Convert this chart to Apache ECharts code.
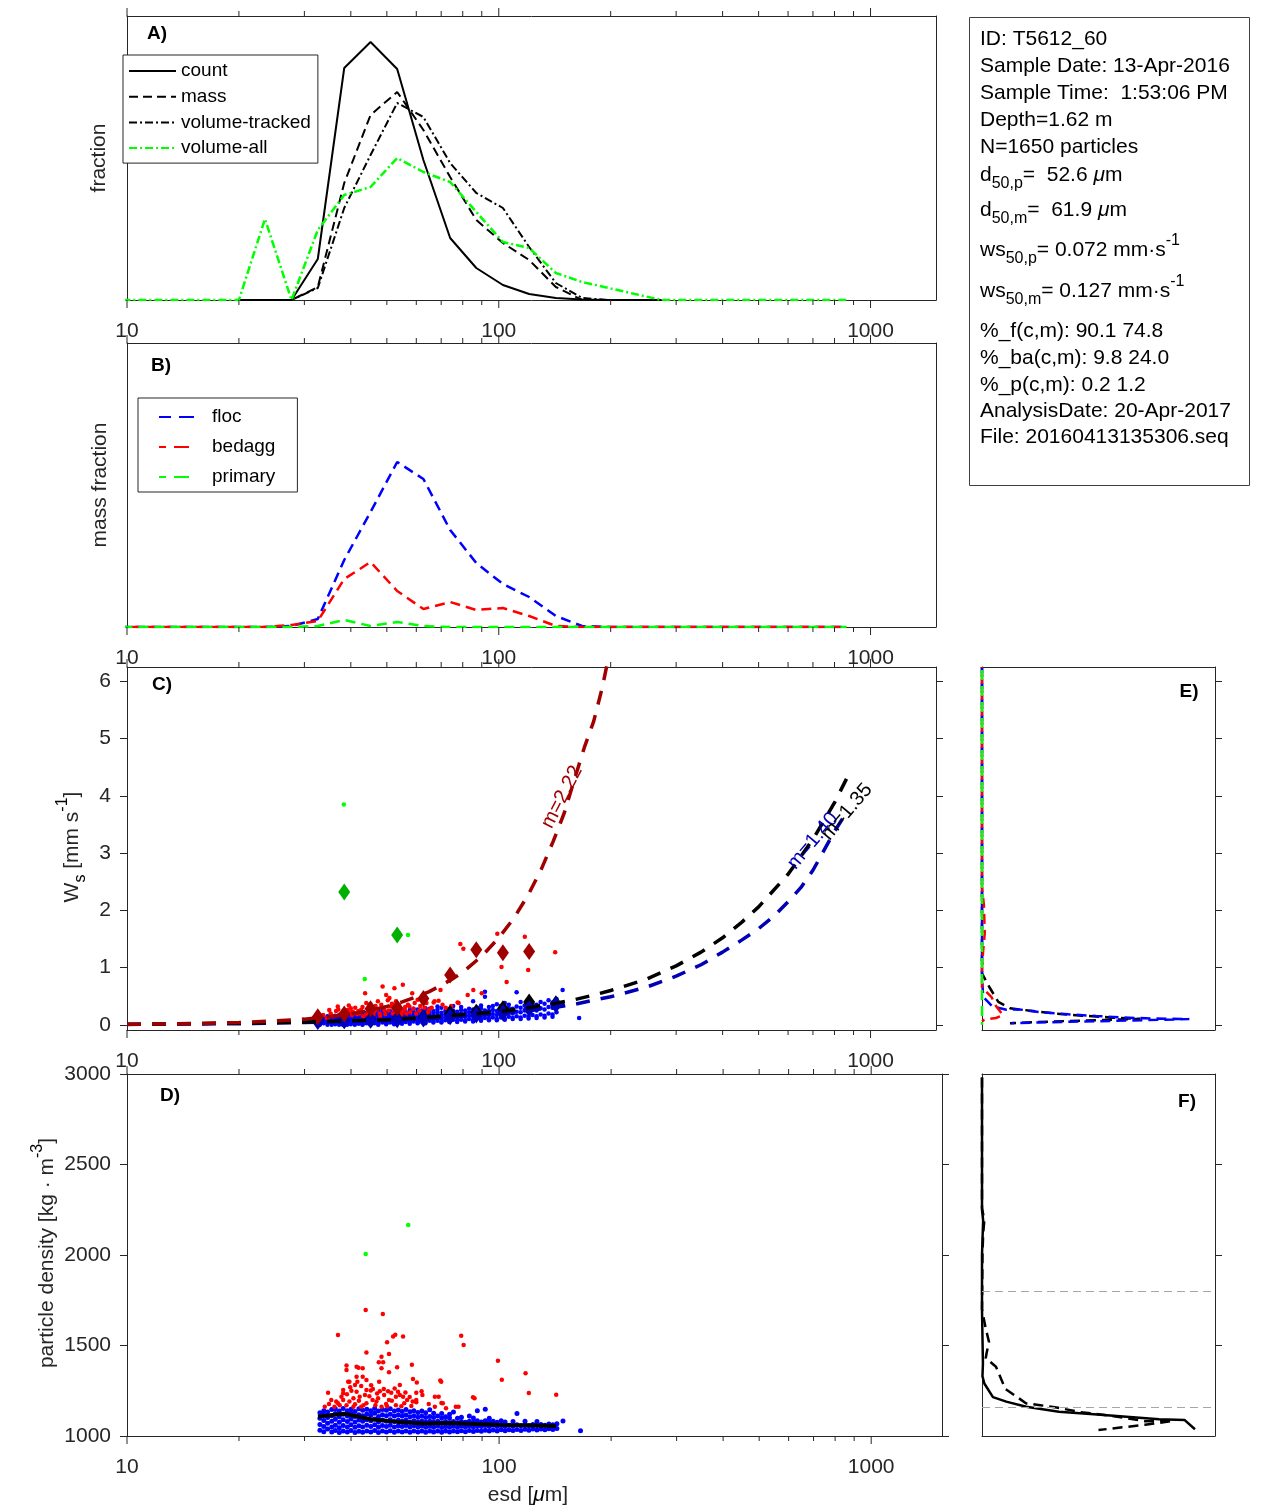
<!DOCTYPE html>
<html><head><meta charset="utf-8">
<script src="https://cdn.jsdelivr.net/npm/echarts@6/dist/echarts.min.js"></script>
<style>html,body{margin:0;padding:0;background:#fff}#chart{width:1270px;height:1511px}</style>
</head><body><div id="chart"></div>
<script>
const FONT = "'Liberation Sans', Arial, Helvetica, sans-serif";
const AXC = '#262626';

// ---------- size bins (µm) for panels A/B ----------
const esdBins = [8.8,10.4,12.2,14.4,16.9,20.0,23.5,27.7,32.6,38.4,45.2,53.3,62.7,74.0,87.0,102.6,120.7,142.4,167.5,197.6,232.4,274.2,322.5,380.5,447.4,527.8,620.9,732.4,861.5];
// Panel A fractions
const countFrac      = [null,null,null,null,null,0,0,0,0.041,0.232,0.258,0.231,0.140,0.062,0.032,0.015,0.006,0.002,0.0005,0,0,0,null,null,null,null,null,null,null];
const massFrac       = [null,null,null,null,null,0,0,0,0.013,0.117,0.185,0.208,0.170,0.123,0.080,0.057,0.040,0.013,0,null,null,null,null,null,null,null,null,null,null];
const volTrackedFrac = [null,null,null,null,null,0,0,0,0.012,0.092,0.145,0.197,0.183,0.137,0.107,0.092,0.053,0.017,0.002,0,null,null,null,null,null,null,null,null,null];
const volAllFrac     = [0,0,0,0,0,0,0.081,0,0.070,0.105,0.113,0.142,0.128,0.118,0.088,0.058,0.052,0.027,0.018,0.012,0.006,0,0,0,0,0,0,0,0];
// Panel B mass fractions
const flocMass    = [0,0,0,0,0,0,0,0.001,0.008,0.067,0.115,0.165,0.148,0.097,0.064,0.043,0.030,0.011,0.001,0,0,0,0,0,0,0,0,0,0];
const bedaggMass  = [0,0,0,0,0,0,0,0.002,0.006,0.048,0.065,0.036,0.018,0.025,0.017,0.019,0.011,0.001,0,0,0,0,0,0,0,0,0,0,0];
const primaryMass = [0,0,0,0,0,0,0,0,0.001,0.007,0.001,0.005,0.001,0,0,0,0,0,0,0,0,0,0,0,0,0,0,0,0];

// ---------- Panel C: bin means ----------
const binMid        = [32.6,38.4,45.2,53.3,62.7,74.0,87.0,102.6,120.7,142.4];
const wsMeanAll     = [0.07,0.08,0.09,0.10,0.12,0.20,0.22,0.28,0.40,0.37];
const wsMeanFloc    = [0.06,0.07,0.08,0.09,0.10,0.14,0.17,0.21,0.28,0.35];
const wsMeanBedagg  = [0.14,0.19,0.28,0.30,0.46,0.87,1.31,1.26,1.28,null];
const wsMeanPrimary = [null,2.32,null,1.57,null,null,null,null,null,null];
// Panel D: bin mean density
const rhoMeanAll    = [1107,1123,1093,1078,1069,1072,1066,1061,1059,1055];

// ---------- Panel C: fitted curves ----------
const fitRedEsd  = [10,15,20,25,30,35,40,45,50,55,60,65,70,75,80,90,100,110,120,130,140,150,160,170,180,190,200];
const fitRedWs   = [0.01,0.02,0.04,0.07,0.10,0.14,0.19,0.25,0.32,0.40,0.49,0.58,0.69,0.80,0.92,1.20,1.52,1.87,2.27,2.71,3.20,3.70,4.30,4.85,5.30,5.90,6.60];
const fitAllEsd  = [10,20,30,40,50,60,70,80,100,120,140,160,180,200,250,300,350,400,450,500,600,700,800,870];
const fitAllWs   = [0.01,0.03,0.05,0.07,0.09,0.12,0.15,0.18,0.23,0.30,0.37,0.44,0.52,0.60,0.80,1.03,1.27,1.52,1.79,2.06,2.63,3.24,3.88,4.35];
const fitFlocEsd = [10,20,30,40,50,60,70,80,100,120,140,160,180,200,250,300,350,400,450,500,550,600,650,700,750,800,860];
const fitFlocWs  = [0.008,0.02,0.04,0.06,0.08,0.10,0.12,0.15,0.19,0.25,0.30,0.36,0.43,0.49,0.66,0.85,1.05,1.27,1.48,1.68,1.90,2.15,2.40,2.70,3.05,3.38,3.70];

// ---------- Panel C: particle settling velocities [esd, ws...] ----------
const flocWsCols = [
 [33.0,[0.00,0.01,0.05,0.09,0.13]],[33.8,[0.03,0.07,0.11]],[34.6,[0.00,0.04,0.08,0.12,0.15]],[35.5,[0.00,0.02,0.06,0.10,0.14]],
 [36.3,[0.01,0.04,0.08,0.12,0.16]],[37.2,[0.00,0.03,0.06,0.10,0.13,0.17]],[38.1,[0.00,0.05,0.09,0.12,0.15]],[39.1,[0.00,0.02,0.06,0.10,0.14,0.18]],
 [40.0,[0.01,0.04,0.08,0.11,0.16]],[41.0,[0.00,0.03,0.07,0.10,0.13,0.17,0.20]],[42.0,[0.02,0.05,0.09,0.12,0.15]],[43.0,[0.00,0.01,0.04,0.07,0.11,0.14,0.18]],
 [44.1,[0.03,0.06,0.10,0.13,0.17,0.21]],[45.2,[0.00,0.02,0.05,0.08,0.12,0.15,0.19]],[46.3,[0.03,0.07,0.10,0.14,0.18]],[47.4,[0.00,0.02,0.05,0.09,0.12,0.16,0.20,0.23]],
 [48.6,[0.04,0.07,0.11,0.14,0.18,0.24]],[49.8,[0.01,0.03,0.06,0.09,0.13,0.17,0.21]],[51.0,[0.04,0.08,0.11,0.15,0.19,0.24]],[52.3,[0.01,0.03,0.06,0.10,0.14,0.17,0.22]],
 [53.6,[0.05,0.08,0.12,0.16,0.20,0.26]],[54.9,[0.02,0.04,0.07,0.11,0.15,0.19,0.25]],[56.2,[0.05,0.09,0.13,0.17,0.22]],[57.6,[0.02,0.04,0.08,0.12,0.16,0.21,0.26]],
 [59.0,[0.06,0.10,0.14,0.18,0.23,0.28]],[60.5,[0.03,0.05,0.09,0.13,0.17,0.22,0.27]],[62.0,[0.06,0.10,0.15,0.20,0.25]],[63.5,[0.03,0.05,0.09,0.14,0.18,0.23,0.29]],
 [65.1,[0.07,0.11,0.16,0.21,0.28]],[66.7,[0.04,0.06,0.10,0.15,0.19,0.24]],[68.4,[0.07,0.12,0.17,0.22,0.27,0.32]],[70.1,[0.04,0.06,0.11,0.16,0.21,0.30]],
 [71.8,[0.08,0.13,0.18,0.24]],[73.6,[0.05,0.07,0.12,0.17,0.22,0.28]],[75.4,[0.09,0.14,0.19,0.25,0.33]],[77.3,[0.05,0.08,0.13,0.18,0.23]],
 [79.2,[0.09,0.15,0.20,0.26,0.31]],[81.2,[0.06,0.08,0.14,0.19,0.25]],[83.2,[0.10,0.16,0.22,0.28]],[85.3,[0.06,0.09,0.15,0.21,0.27,0.41]],
 [87.4,[0.11,0.17,0.23,0.30]],[89.6,[0.07,0.10,0.16,0.22,0.29,0.34]],[91.8,[0.12,0.18,0.25,0.49,0.58]],[94.1,[0.08,0.11,0.17,0.24,0.31]],
 [96.4,[0.13,0.19,0.26,0.33]],[98.8,[0.08,0.10,0.17,0.24,0.36]],[101.3,[0.13,0.20,0.27,0.33]],[103.8,[0.09,0.11,0.19,0.26,0.38]],
 [106.4,[0.14,0.21,0.29,0.35]],[109.0,[0.10,0.12,0.20,0.28]],[111.7,[0.15,0.23,0.32,0.57]],[114.5,[0.10,0.13,0.22,0.30,0.40]],
 [117.4,[0.16,0.25,0.34]],[120.3,[0.11,0.14,0.23,0.32,0.42]],[123.3,[0.17,0.26,0.36]],[126.4,[0.12,0.15,0.25,0.35]],
 [129.6,[0.18,0.29,0.40]],[132.8,[0.13,0.16,0.27,0.37]],[136.1,[0.20,0.31,0.43]],[139.5,[0.14,0.18,0.30,0.39]],
 [143.0,[0.22,0.33,0.45]],[148.5,[0.35,0.61]],[164.5,[0.12]]
];
const bedaggWsPts = [
 [33.7,0.17],[34.5,0.12],[35.0,0.26],[35.3,0.20],[35.8,0.15],[36.5,0.24],[36.9,0.32],[37.0,0.27],[37.4,0.18],[38.1,0.20],[38.6,0.13],[38.9,0.16],
 [39.2,0.26],[39.5,0.34],[39.7,0.22],[40.0,0.29],[40.3,0.17],[40.5,0.23],[41.1,0.30],[41.6,0.19],[41.9,0.24],[42.2,0.20],[42.6,0.26],[43.0,0.31],
 [43.2,0.15],[43.7,0.55],[44.0,0.38],[44.2,0.18],[44.5,0.22],[44.9,0.23],[45.0,0.36],[45.5,0.29],[46.0,0.18],[46.3,0.24],[46.6,0.33],[47.0,0.27],
 [47.3,0.41],[47.8,0.20],[48.0,0.16],[48.3,0.35],[48.7,0.67],[49.2,0.26],[49.5,0.19],[49.8,0.52],[50.3,0.43],[50.5,0.25],[50.8,0.47],[51.3,0.32],
 [51.6,0.37],[51.9,0.20],[52.2,0.28],[52.4,0.64],[52.9,0.41],[53.0,0.19],[53.5,0.24],[53.9,0.35],[54.1,0.29],[54.7,0.18],[55.0,0.23],[55.2,0.70],
 [55.8,0.27],[56.0,0.31],[56.4,0.20],[57.0,0.35],[57.5,0.32],[57.8,0.22],[58.5,0.55],[58.9,0.28],[59.4,0.38],[60.0,0.20],[60.5,0.44],[61.2,0.25],
 [61.5,0.33],[62.4,0.47],[63.1,0.30],[63.9,0.38],[64.5,0.22],[65.0,0.27],[66.0,0.30],[66.8,0.39],[67.2,0.41],[68.9,0.42],[69.7,0.61],[70.6,0.35],
 [72.0,0.30],[74.5,0.33],[77.5,0.39],[78.0,0.38],[78.8,1.41],[80.3,1.33],[82.5,0.52],[85.4,0.61],[90.0,0.55],[99.1,1.59],[101.7,1.01],[105.0,0.75],
 [117.5,1.54],[120.0,0.96],[141.8,1.27]
];
const primaryWsPts = [[38.3,3.85],[43.6,0.80],[57.0,1.57]];

// ---------- Panel D: particle densities ----------
const flocRhoCols = [
 [33.0,[1032,1064,1098,1128]],[33.8,[1024,1052,1085,1116,1140]],[34.6,[1038,1070,1102,1133]],[35.5,[1022,1050,1082,1112,1146]],
 [36.3,[1030,1060,1092,1124,1150]],[37.2,[1020,1046,1076,1106,1138]],[38.1,[1028,1058,1090,1120,1152]],[39.1,[1022,1050,1080,1110,1140]],
 [40.0,[1030,1062,1094,1126,1148]],[41.0,[1020,1048,1078,1108,1136]],[42.0,[1026,1056,1088,1118,1150]],[43.0,[1021,1050,1082,1112,1142]],
 [44.1,[1028,1060,1090,1122,1148]],[45.2,[1022,1052,1084,1114,1140]],[46.3,[1030,1062,1094,1126,1152]],[47.4,[1020,1048,1078,1108,1138]],
 [48.6,[1027,1058,1088,1118,1146]],[49.8,[1022,1052,1082,1112,1142]],[51.0,[1029,1060,1090,1120,1150]],[52.3,[1021,1050,1080,1110,1138]],
 [53.6,[1027,1057,1087,1116,1144]],[54.9,[1022,1052,1082,1110,1136]],[56.2,[1028,1058,1088,1116,1146]],[57.6,[1021,1050,1078,1106,1134]],
 [59.0,[1027,1056,1084,1112,1140]],[60.5,[1022,1050,1078,1104,1130]],[62.0,[1028,1055,1083,1110,1138]],[63.5,[1021,1048,1076,1102,1128]],
 [65.1,[1027,1054,1081,1108,1145]],[66.7,[1022,1049,1076,1102,1126]],[68.4,[1028,1055,1082,1110]],[70.1,[1021,1047,1073,1100,1124]],
 [71.8,[1027,1053,1080,1106]],[73.6,[1022,1048,1074,1100,1120]],[75.4,[1028,1054,1080,1132]],[77.3,[1023,1048,1073,1098]],
 [79.2,[1029,1055,1080,1104]],[81.2,[1024,1050,1076]],[83.2,[1030,1056,1082,1110]],[85.3,[1025,1050,1076,1100]],
 [87.4,[1031,1057,1084,1140]],[89.6,[1026,1052,1078]],[91.8,[1032,1058,1084,1148]],[94.1,[1027,1053,1079,1098]],
 [96.4,[1033,1059,1082]],[98.8,[1028,1052,1076]],[101.3,[1034,1058,1084]],[103.8,[1029,1053,1078]],
 [106.4,[1035,1060]],[109.0,[1030,1055,1080]],[111.7,[1036,1062,1125]],[114.5,[1031,1056]],
 [117.4,[1037,1062,1082]],[120.3,[1032,1057]],[123.3,[1038,1063]],[126.4,[1033,1058,1080]],
 [129.6,[1039,1064]],[132.8,[1034,1060]],[136.1,[1040,1066]],[139.5,[1036,1062]],
 [143.0,[1042,1068]],[148.5,[1083]],[165.5,[1029]]
];
const bedaggRhoPts = [
 [34.0,1162],[34.7,1239],[34.9,1177],[35.4,1199],[36.1,1162],[36.5,1190],[36.9,1558],[36.9,1181],[37.3,1170],[37.7,1217],[38.1,1254],[38.1,1236],
 [38.1,1199],[38.9,1389],[38.9,1365],[38.9,1170],[39.0,1230],[39.3,1300],[39.6,1300],[39.6,1190],[39.8,1270],[40.1,1250],[40.6,1208],[40.6,1162],
 [41.0,1282],[41.0,1175],[41.4,1383],[41.4,1328],[41.4,1245],[41.6,1300],[41.9,1377],[42.0,1195],[42.2,1217],[42.6,1276],[42.6,1162],[43.0,1374],
 [43.0,1328],[43.2,1170],[43.6,1227],[43.8,1696],[44.0,1462],[44.0,1310],[44.0,1254],[44.0,1181],[44.8,1220],[45.2,1251],[45.3,1280],[45.7,1199],
 [45.8,1260],[46.5,1170],[46.8,1190],[47.0,1235],[47.3,1208],[47.5,1407],[47.6,1300],[47.8,1247],[48.3,1438],[48.3,1374],[48.3,1162],[48.7,1674],
 [48.8,1407],[49.0,1260],[49.1,1227],[49.7,1177],[50.0,1518],[50.0,1165],[50.3,1247],[50.6,1453],[50.6,1352],[50.6,1199],[51.3,1239],[51.5,1195],
 [51.9,1550],[52.4,1263],[52.6,1560],[52.8,1217],[52.8,1170],[53.2,1380],[53.5,1245],[54.1,1282],[54.1,1227],[54.6,1165],[55.2,1550],[55.2,1217],
 [55.6,1181],[56.0,1240],[56.6,1199],[57.5,1215],[58.1,1166],[58.3,1394],[58.6,1190],[58.7,1315],[59.9,1239],[59.9,1199],[59.9,1186],[60.1,1295],
 [61.9,1247],[62.2,1227],[64.7,1177],[67.2,1217],[67.2,1162],[68.8,1217],[69.5,1306],[69.9,1300],[70.0,1182],[70.6,1181],[72.0,1153],[76.5,1162],
 [77.8,1162],[79.1,1554],[80.3,1503],[85.1,1214],[85.9,1208],[99.3,1416],[101.7,1311],[117.8,1346],[120.2,1238],[142.4,1228]
];
const primaryRhoPts = [[43.8,2005],[57.0,2166]];

// ---------- Panel E: ws distributions [fraction, ws] ----------
const wsDistAll     = [[0,6.25],[0,0.90],[0.03,0.67],[0.07,0.40],[0.12,0.29],[0.20,0.25],[0.31,0.20],[0.43,0.16],[0.55,0.13],[0.68,0.105],[0.35,0.065],[0.12,0.03]];
const wsDistFloc    = [[0,6.25],[0,0.84],[0.005,0.49],[0.045,0.32],[0.105,0.265],[0.16,0.27],[0.25,0.22],[0.37,0.185],[0.49,0.155],[0.60,0.13],[0.73,0.11],[0.89,0.10],[0.89,0.087],[0.126,0.03]];
const wsDistBedagg  = [[0,6.25],[0,2.4],[0.008,2.1],[0.012,1.6],[0.005,1.3],[0,1.0],[0,0.65],[0.04,0.49],[0.06,0.33],[0.09,0.17],[0.06,0.12],[0.01,0.09],[0,0.06]];
const wsDistPrimary = [[0,6.25],[0,0.0]];
// ---------- Panel F: density distributions [fraction, density] ----------
const rhoDistCount = [[0,2980],[0,2250],[0.005,2190],[0.003,2120],[0,2000],[0,1700],[0.004,1400],[0.002,1330],[0.01,1290],[0.047,1215],[0.104,1190],[0.19,1162],[0.33,1134],[0.48,1120],[0.62,1107],[0.76,1092],[0.87,1088],[0.914,1037]];
const rhoDistMass  = [[0,2980],[0,2260],[0.01,2190],[0.005,2120],[0.002,2000],[0,1700],[0.015,1600],[0.03,1520],[0.02,1460],[0.016,1430],[0.06,1383],[0.10,1260],[0.14,1225],[0.19,1180],[0.25,1170],[0.32,1158],[0.42,1132],[0.55,1113],[0.70,1082],[0.82,1083],[0.70,1062],[0.50,1033]];
const densityThresholds = [1160, 1800];

// ---------- ticks ----------
const majorTicks = [10,100,1000];
const minorTicks = [20,30,40,50,60,70,80,90,200,300,400,500,600,700,800,900];
const wsTicks  = [0,1,2,3,4,5,6];
const rhoTicks = [1000,1500,2000,2500,3000];

// ---------- helpers ----------
const zip = (xs, ys) => xs.map((x, i) => [x, ys[i]]).filter(p => p[1] !== null && p[1] !== undefined);
const flatCols = cols => cols.flatMap(([x, vs]) => vs.map(v => [x, v]));

const grids = [
  {left:127, top:16,   width:809, height:284},
  {left:127, top:343,  width:809, height:284},
  {left:127, top:667,  width:809, height:363},
  {left:127, top:1074, width:815, height:362},
  {left:982, top:667,  width:233, height:363},
  {left:982, top:1074, width:233, height:362}
].map(g => Object.assign({containLabel:false, outerBoundsMode:'none'}, g));

const lineAx = {show:true, onZero:false, lineStyle:{color:AXC, width:1}};
const lblBase = {fontSize:21, fontFamily:FONT, color:AXC};
function xLog(g, position, max, labels) {
  return {
    type:'log', logBase:10, gridIndex:g, position, min:10, max,
    axisLine:lineAx, axisTick:{show:false}, splitLine:{show:false}, minorTick:{show:false},
    axisLabel: labels ? Object.assign({show:true, margin:21,
      formatter: v => majorTicks.some(m => Math.abs(m - v) < 1e-6) ? String(Math.round(v)) : ''}, lblBase) : {show:false}
  };
}
function xLin(g, position) {
  return {type:'value', gridIndex:g, position, min:0, max:1, axisLine:lineAx, axisTick:{show:false}, axisLabel:{show:false}, splitLine:{show:false}};
}
function yAx(g, position, min, max, ticks, labels, extra) {
  const o = {type:'value', gridIndex:g, position, min, max, axisLine:lineAx, splitLine:{show:false}};
  if (ticks) {
    o.axisTick = {show:true, inside:false, length:7, customValues:ticks, lineStyle:{color:AXC, width:1}};
  } else {
    o.axisTick = {show:false};
  }
  if (labels) {
    o.axisLabel = Object.assign({show:true, margin:16, customValues:ticks, showMinLabel:true, showMaxLabel:true,
      formatter: v => ticks.some(t => Math.abs(t - v) < 1e-9) ? String(v) : ''}, lblBase);
  } else {
    o.axisLabel = {show:false};
  }
  return Object.assign(o, extra || {});
}

const xAxis = [
  xLog(0,'bottom',1500,true), xLog(0,'top',1500,false),
  xLog(1,'bottom',1500,true), xLog(1,'top',1500,false),
  xLog(2,'bottom',1500,true), xLog(2,'top',1500,false),
  xLog(3,'bottom',1550,true), xLog(3,'top',1550,false),
  xLin(4,'bottom'), xLin(4,'top'),
  xLin(5,'bottom'), xLin(5,'top')
];
const yAxis = [
  yAx(0,'left',0,0.284,null,false), yAx(0,'right',0,0.284,null,false),
  yAx(1,'left',0,0.284,null,false), yAx(1,'right',0,0.284,null,false),
  yAx(2,'left',-0.09,6.25,wsTicks,true), yAx(2,'right',-0.09,6.25,wsTicks,false),
  yAx(3,'left',1000,3000,rhoTicks,true,{interval:500}), yAx(3,'right',1000,3000,rhoTicks,false,{interval:500}),
  yAx(4,'left',-0.09,6.25,null,false), yAx(4,'right',-0.09,6.25,wsTicks,false),
  yAx(5,'left',1000,3000,null,false,{interval:500}), yAx(5,'right',1000,3000,[1500,2000,2500],false,{interval:500})
];

function tickSeries(g, yMin, yMax) {
  return {
    type:'custom', xAxisIndex:2*g, yAxisIndex:2*g, silent:true, clip:false, z:10,
    encode:{x:0, y:1},
    data:[...majorTicks.map(v => [v, 8]), ...minorTicks.map(v => [v, 5])],
    renderItem: (params, api) => {
      const v = api.value(0), len = api.value(1);
      const b = api.coord([v, yMin]), t = api.coord([v, yMax]);
      return {type:'group', children:[
        {type:'line', shape:{x1:b[0], y1:b[1], x2:b[0], y2:b[1] + len}, style:{stroke:AXC, lineWidth:1}},
        {type:'line', shape:{x1:t[0], y1:t[1], x2:t[0], y2:t[1] - len}, style:{stroke:AXC, lineWidth:1}}
      ]};
    }
  };
}
function line(name, g, data, color, width, type, extra) {
  return Object.assign({
    name, type:'line', xAxisIndex:2*g, yAxisIndex:2*g, data, symbol:'none', showSymbol:false,
    clip:true, silent:true, lineStyle:{color, width, type: type || 'solid'}, itemStyle:{color}
  }, extra || {});
}
function scatter(name, g, data, color, size, symbol, extra) {
  return Object.assign({
    name, type:'scatter', xAxisIndex:2*g, yAxisIndex:2*g, data, symbol: symbol || 'circle',
    symbolSize:size, silent:true, itemStyle:{color, opacity:1}
  }, extra || {});
}
const DASH = [10, 6];
const DASHDOT = [8, 3, 2, 3];
const FITDASH = [14, 11];

const series = [
  // A
  line('count', 0, zip(esdBins, countFrac), '#000', 2),
  line('mass', 0, zip(esdBins, massFrac), '#000', 2, [9, 5]),
  line('volume-tracked', 0, zip(esdBins, volTrackedFrac), '#000', 2, DASHDOT),
  line('volume-all', 0, zip(esdBins, volAllFrac), '#00ff00', 2.5, DASHDOT),
  // B
  line('floc', 1, zip(esdBins, flocMass), '#0000ff', 2.5, DASH, {lineStyle:{color:'#0000ff', width:2.5, type:DASH, dashOffset:3}}),
  line('bedagg', 1, zip(esdBins, bedaggMass), '#ff0000', 2.5, DASH, {lineStyle:{color:'#ff0000', width:2.5, type:DASH, dashOffset:8}}),
  line('primary', 1, zip(esdBins, primaryMass), '#00ff00', 2.5, DASH),
  // C points
  scatter('flocWs', 2, flatCols(flocWsCols), '#0000ff', 4.5),
  scatter('bedaggWs', 2, bedaggWsPts, '#ff0000', 4.5),
  scatter('primaryWs', 2, primaryWsPts, '#00ff00', 4.5),
  // C fits
  line('fitFloc', 2, zip(fitFlocEsd, fitFlocWs), '#0000b4', 3.5, FITDASH),
  line('fitAll', 2, zip(fitAllEsd, fitAllWs), '#000', 3.5, FITDASH),
  line('fitBedagg', 2, zip(fitRedEsd, fitRedWs), '#a00000', 3.5, FITDASH),
  // C bin means
  scatter('meanAll', 2, zip(binMid, wsMeanAll), '#000', [12, 17], 'diamond'),
  scatter('meanFloc', 2, zip(binMid, wsMeanFloc), '#0000c0', [12, 17], 'diamond'),
  scatter('meanBedagg', 2, zip(binMid, wsMeanBedagg), '#a00000', [12, 17], 'diamond'),
  scatter('meanPrimary', 2, zip(binMid, wsMeanPrimary), '#00b000', [12, 17], 'diamond'),
  // D
  scatter('flocRho', 3, flatCols(flocRhoCols), '#0000ff', 5),
  scatter('bedaggRho', 3, bedaggRhoPts, '#ff0000', 4.5),
  scatter('primaryRho', 3, primaryRhoPts, '#00ff00', 4.5),
  line('rhoMean', 3, zip(binMid, rhoMeanAll), '#000', 4),
  // E
  line('eAll', 4, wsDistAll, '#000', 2.5, DASH),
  line('eFloc', 4, wsDistFloc, '#0000ff', 2.5, DASH, {lineStyle:{color:'#0000ff', width:2.5, type:DASH, dashOffset:4}}),
  line('eBedagg', 4, wsDistBedagg, '#ff0000', 2.5, DASH, {lineStyle:{color:'#ff0000', width:2.5, type:DASH, dashOffset:9}}),
  line('ePrimary', 4, wsDistPrimary, '#00ff00', 2.5, DASH, {lineStyle:{color:'#00ff00', width:2.5, type:DASH, dashOffset:13}}),
  // F
  line('fCount', 5, rhoDistCount, '#000', 2.5, 'solid', {markLine:{silent:true, symbol:'none', label:{show:false},
      lineStyle:{color:'#a6a6a6', type:[8, 5], width:1}, data: densityThresholds.map(v => ({yAxis:v}))}}),
  line('fMass', 5, rhoDistMass, '#000', 2.5, DASH),
  // ticks for log axes
  tickSeries(0, 0, 0.284), tickSeries(1, 0, 0.284), tickSeries(2, -0.09, 6.25), tickSeries(3, 1000, 3000)
];

const legend = [
  {left:123, top:55, orient:'vertical', selectedMode:false,
   data:['count','mass','volume-tracked','volume-all'],
   itemWidth:47, itemHeight:14, itemGap:5.7, padding:[6,7,5,5], borderColor:AXC, borderWidth:1, backgroundColor:'#fff',
   itemStyle:{opacity:0, borderWidth:0},
   textStyle:{fontSize:19, fontFamily:FONT, color:'#000', lineHeight:20}},
  {left:138, top:398, orient:'vertical', selectedMode:false,
   data:['floc','bedagg','primary'],
   itemWidth:38, itemHeight:14, itemGap:10, padding:[9,22,5,20], borderColor:AXC, borderWidth:1, backgroundColor:'#fff',
   itemStyle:{opacity:0, borderWidth:0}, lineStyle:{type:[15, 8]},
   textStyle:{fontSize:19, fontFamily:FONT, color:'#000', lineHeight:20, padding:[0,0,0,10]}}
];

// ---------- text ----------
const richBase = (size, lh) => ({
  sub:{fontSize:size - 5, fontFamily:FONT, fill:'#000', verticalAlign:'bottom'},
  sup:{fontSize:size - 5, fontFamily:FONT, fill:'#000', verticalAlign:'top'},
  i:{fontSize:size, fontFamily:FONT, fill:'#000', fontStyle:'italic', lineHeight:lh}
});
function txt(x, y, text, opt) {
  opt = opt || {};
  const size = opt.size || 21;
  return {
    type:'text', x, y, rotation: opt.rotation || 0, z:100, silent:true,
    style:{text, fontSize:size, fontFamily:FONT, fontWeight: opt.weight || 'normal', fill: opt.color || '#000',
      align: opt.align || 'left', verticalAlign:'middle', lineHeight: opt.lh || 34, rich: richBase(size, opt.lh || 34)}
  };
}
const infoLines = [
  ['ID: T5612_60', 39],
  ['Sample Date: 13-Apr-2016', 66],
  ['Sample Time:  1:53:06 PM', 93],
  ['Depth=1.62 m', 120],
  ['N=1650 particles', 147],
  ['d{sub|50,p}=  52.6 {i|\u03bc}m', 175],
  ['d{sub|50,m}=  61.9 {i|\u03bc}m', 210],
  ['ws{sub|50,p}= 0.072 mm\u00b7s{sup|-1}', 250],
  ['ws{sub|50,m}= 0.127 mm\u00b7s{sup|-1}', 291],
  ['%_f(c,m): 90.1 74.8', 331],
  ['%_ba(c,m): 9.8 24.0', 358],
  ['%_p(c,m): 0.2 1.2', 385],
  ['AnalysisDate: 20-Apr-2017', 411],
  ['File: 20160413135306.seq', 437]
];
const graphic = [
  {type:'rect', shape:{x:969.5, y:17.5, width:280, height:468}, style:{fill:'#fff', stroke:'#404040', lineWidth:1}, z:90, silent:true},
  ...infoLines.map(([t, y]) => txt(980, y, t)),
  // axis titles
  txt(99, 158, 'fraction', {align:'center', rotation:Math.PI/2, color:AXC}),
  txt(100, 485, 'mass fraction', {align:'center', rotation:Math.PI/2, color:AXC}),
  txt(72, 847, 'W{sub|s} [mm s{sup|-1}]', {align:'center', rotation:Math.PI/2, color:AXC}),
  txt(47, 1253, 'particle density [kg \u00b7 m{sup|-3}]', {align:'center', rotation:Math.PI/2, color:AXC}),
  txt(528, 1495, 'esd [{i|\u03bc}m]', {align:'center', color:AXC}),
  // panel letters
  txt(157, 34, 'A)', {align:'center', weight:'bold', size:19}),
  txt(161, 366, 'B)', {align:'center', weight:'bold', size:19}),
  txt(162, 685, 'C)', {align:'center', weight:'bold', size:19}),
  txt(170, 1096, 'D)', {align:'center', weight:'bold', size:19}),
  txt(1189, 692, 'E)', {align:'center', weight:'bold', size:19}),
  txt(1187, 1102, 'F)', {align:'center', weight:'bold', size:19}),
  // fit labels
  txt(562, 797, 'm=2.22', {align:'center', rotation:1.094, color:'#a00000', size:20}),
  txt(813, 841, 'm=1.40', {align:'center', rotation:0.87, color:'#0000b4', size:20}),
  txt(847, 812, 'm=1.35', {align:'center', rotation:0.87, color:'#000', size:20})
];

const chart = echarts.init(document.getElementById('chart'), null, {renderer:'canvas'});
chart.setOption({
  animation:false, backgroundColor:'#fff',
  grid:grids, xAxis, yAxis, series, legend, graphic
});
</script>
</body></html>
